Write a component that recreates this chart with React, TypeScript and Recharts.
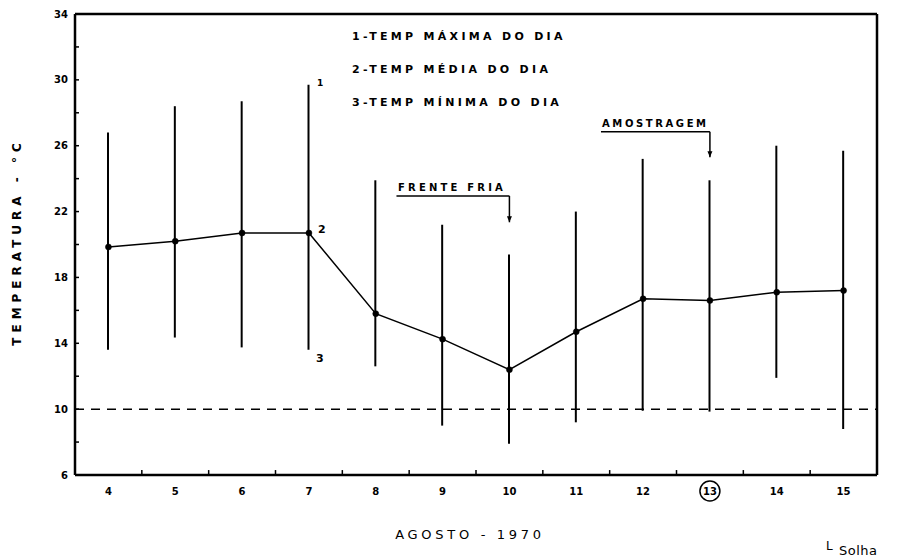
import React from 'react';
import {
  ComposedChart, Line, Bar, XAxis, YAxis, ReferenceLine, ReferenceDot,
} from 'recharts';

const days = [4, 5, 6, 7, 8, 9, 10, 11, 12, 13, 14, 15];
const maxTemp = [26.8, 28.4, 28.7, 29.7, 23.9, 21.2, 19.4, 22.0, 25.2, 23.9, 26.0, 25.7];
const meanTemp = [19.85, 20.2, 20.7, 20.7, 15.8, 14.25, 12.4, 14.7, 16.7, 16.6, 17.1, 17.2];
const minTemp = [13.6, 14.35, 13.75, 13.6, 12.6, 9.0, 7.9, 9.2, 9.9, 9.85, 11.9, 8.8];
const yTicks = [6, 8, 10, 12, 14, 16, 18, 20, 22, 24, 26, 28, 30, 32, 34];
const yLabelTicks = [6, 10, 14, 18, 22, 26, 30, 34];
const legendLines = ['1-TEMP MÁXIMA DO DIA', '2-TEMP MÉDIA DO DIA', '3-TEMP MÍNIMA DO DIA'];
const thresholdTemp = 10;
const frenteFria = { label: 'FRENTE FRIA', fromDay: 8.31, day: 10, lineTemp: 22.95, tipTemp: 21.35 };
const amostragem = { label: 'AMOSTRAGEM', fromDay: 11.37, day: 13, lineTemp: 26.85, tipTemp: 25.3 };
const highlightDay = 13;
const xDomain = [3.5, 15.5];
const yDomain = [6, 34];

const data = days.map((d, i) => ({
  day: d,
  mean: meanTemp[i],
  range: [minTemp[i], maxTemp[i]],
}));
const boundaries = days.slice(0, -1).map((d) => d + 0.5);

const FONT = '"DejaVu Sans", sans-serif';

const LeftTick = (props: any) => {
  const { x, y, payload } = props;
  const v = payload.value;
  return (
    <g>
      <line x1={x + 7} x2={x + 11} y1={y} y2={y} stroke="#000" strokeWidth={1.5} />
      {yLabelTicks.includes(v) && (
        <text x={x} y={y} textAnchor="end" dominantBaseline="central"
          fontFamily={FONT} fontWeight="bold" fontSize={10} fill="#000">{v}</text>
      )}
    </g>
  );
};

const RightTick = (props: any) => {
  const { x, y, payload } = props;
  const v = payload.value;
  return (
    <g>
      <line x1={x - 4} x2={x - 8} y1={y} y2={y} stroke="#000" strokeWidth={1.5} />
      {yLabelTicks.includes(v) && (
        <text x={x} y={y} textAnchor="start" dominantBaseline="central"
          fontFamily={FONT} fontWeight="bold" fontSize={10} fill="#000">{v}</text>
      )}
    </g>
  );
};

const BottomTick = (props: any) => {
  const { x, y, payload } = props;
  const v = payload.value;
  return (
    <g>
      {v === highlightDay && <circle cx={x} cy={y} r={10} fill="none" stroke="#000" strokeWidth={1.5} />}
      <text x={x} y={y} textAnchor="middle" dominantBaseline="central"
        fontFamily={FONT} fontWeight="bold" fontSize={10} fill="#000">{v}</text>
    </g>
  );
};

const ArrowHead = (props: any) => {
  const { cx, cy } = props;
  return <path d={`M${cx - 2.5},${cy - 6} L${cx + 2.5},${cy - 6} L${cx},${cy} Z`} fill="#000" />;
};

export default function App() {
  return (
    <div style={{ position: 'absolute', left: 0, top: 0, width: 906, height: 560, background: '#fff' }}>
      <ComposedChart width={906} height={560} data={data}
        margin={{ top: 14, right: 0, left: 0, bottom: 0 }}>
        <XAxis dataKey="day" type="number" domain={xDomain} ticks={days}
          allowDataOverflow height={85} tickSize={0} tickMargin={16} tickLine={false}
          axisLine={false} tick={<BottomTick />} interval={0} />
        <YAxis domain={yDomain} ticks={yTicks} width={75} tickSize={0} tickMargin={7}
          tickLine={false} axisLine={false} tick={<LeftTick />} interval={0} />
        <YAxis yAxisId="right" orientation="right" domain={yDomain} ticks={yTicks} width={29}
          tickSize={0} tickMargin={4} tickLine={false} axisLine={false}
          tick={<RightTick />} interval={0} />
        <ReferenceLine y={thresholdTemp} stroke="#000" strokeWidth={1.5} strokeDasharray="9 7" />
        {boundaries.map((b) => (
          <ReferenceLine key={b} segment={[{ x: b, y: 6 }, { x: b, y: 6.3 }]} stroke="#000" strokeWidth={1.5} />
        ))}
        <ReferenceLine y={yDomain[1]} stroke="#000" strokeWidth={2.5} />
        <ReferenceLine y={yDomain[0]} stroke="#000" strokeWidth={2.5} />
        <ReferenceLine x={xDomain[0]} stroke="#000" strokeWidth={2.5} />
        <ReferenceLine x={xDomain[1]} stroke="#000" strokeWidth={2.5} />
        <Bar dataKey="range" barSize={2} fill="#000" isAnimationActive={false} />
        <Line dataKey="mean" stroke="#000" strokeWidth={1.5} isAnimationActive={false}
          dot={{ r: 3, fill: '#000', stroke: '#000', strokeWidth: 0.5 }} activeDot={false} />
        {[frenteFria, amostragem].map((a) => (
          <React.Fragment key={a.label}>
            <ReferenceLine segment={[{ x: a.fromDay, y: a.lineTemp }, { x: a.day, y: a.lineTemp }]} stroke="#000" strokeWidth={1.5} />
            <ReferenceLine segment={[{ x: a.day, y: a.lineTemp }, { x: a.day, y: a.tipTemp }]} stroke="#000" strokeWidth={1.5} />
            <ReferenceDot x={a.day} y={a.tipTemp} r={3} shape={<ArrowHead />} />
          </React.Fragment>
        ))}
      </ComposedChart>
      <svg width={906} height={560} style={{ position: 'absolute', left: 0, top: 0, pointerEvents: 'none' }}>
        {legendLines.map((t, i) => (
          <text key={t} x={352} y={36 + i * 33} dominantBaseline="central" fontFamily={FONT}
            fontWeight="bold" fontSize={11} letterSpacing={3.3} fill="#000">{t}</text>
        ))}
        <text x={398} y={187} dominantBaseline="central" fontFamily={FONT} fontWeight="bold"
          fontSize={10} letterSpacing={3.2} fill="#000">{frenteFria.label}</text>
        <text x={602} y={123} dominantBaseline="central" fontFamily={FONT} fontWeight="bold"
          fontSize={10} letterSpacing={2.6} fill="#000">{amostragem.label}</text>
        <text x={317} y={83} dominantBaseline="central" fontFamily={FONT} fontWeight="bold" fontSize={9} fill="#000">1</text>
        <text x={318} y={229} dominantBaseline="central" fontFamily={FONT} fontWeight="bold" fontSize={11} fill="#000">2</text>
        <text x={316} y={358} dominantBaseline="central" fontFamily={FONT} fontWeight="bold" fontSize={11} fill="#000">3</text>
        <text transform="translate(17,242) rotate(-90)" textAnchor="middle" dominantBaseline="central"
          fontFamily={FONT} fontWeight="bold" fontSize={12} letterSpacing={5} fill="#000">TEMPERATURA - °C</text>
        <text x={470} y={534} textAnchor="middle" dominantBaseline="central" fontFamily={FONT}
          fontSize={13} letterSpacing={3.7} fill="#000">AGOSTO - 1970</text>
        <text x={826} y={550} fontFamily={FONT} fontSize={12} fill="#000">L</text>
        <text x={839} y={555} fontFamily={FONT} fontSize={13} letterSpacing={0.5} fill="#000">Solha</text>
      </svg>
    </div>
  );
}
